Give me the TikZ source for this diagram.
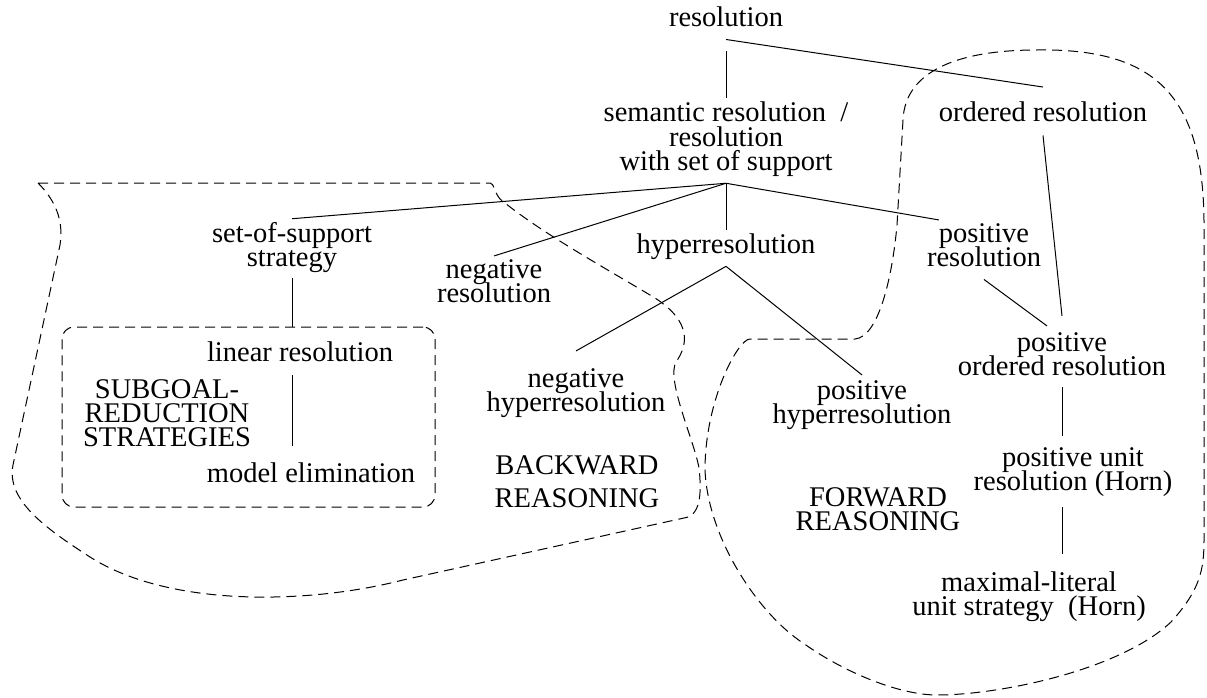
\documentclass[tikz,border=0pt]{standalone}
\usepackage{fontspec}
\setmainfont{Liberation Serif}
\begin{document}
\begin{tikzpicture}[x=1pt,y=-1pt,
    lbl/.style={inner sep=0pt,anchor=base,align=center,
      font={\fontsize{28.5}{24}\selectfont\lineskiplimit=-50pt}},
    link/.style={line width=1pt},
    region/.style={line width=1pt,dash pattern=on 10pt off 6pt},
    sgbox/.style={region,draw,rounded corners=12pt,minimum width=373pt,minimum height=180pt}]
    \useasboundingbox (0,0) rectangle (1207,698);
    \node[lbl] (res) at (726,27) {resolution};
    \node[lbl] (sem) at (726,170) {semantic resolution\ \ /\\resolution\\with set of support};
    \node[lbl] (ord) at (1043,122) {ordered resolution};
    \node[lbl] (sos) at (292,266) {set-of-support\\strategy};
    \node[lbl] (neg) at (494,302) {negative\\resolution};
    \node[lbl] (hyp) at (726,253) {hyperresolution};
    \node[lbl] (pos) at (984,266) {positive\\resolution};
    \node[sgbox] (sg) at (248.5,417) {};
    \node[lbl] (lin) at (300,361) {linear resolution};
    \node[lbl] (sub) at (167,446) {SUBGOAL-\\REDUCTION\\STRATEGIES};
    \node[lbl] (mod) at (311,482) {model elimination};
    \node[lbl] (neghyp) at (576,411) {negative\\hyperresolution};
    \node[lbl] (poshyp) at (862,423) {positive\\hyperresolution};
    \node[lbl] (back) at (577,507) {BACKWARD\\[9pt]REASONING};
    \node[lbl] (fwd) at (878,530) {FORWARD\\REASONING};
    \node[lbl] (posord) at (1062,375) {positive\\ordered resolution};
    \node[lbl] (posunit) at (1073,490) {positive unit\\resolution (Horn)};
    \node[lbl] (maxlit) at (1029,615) {maximal-literal\\unit strategy\ \ (Horn)};
    \draw[link] ([yshift=-24pt]res.south) -- ([yshift=4pt]sem.north);
    \draw[link] ([yshift=-12pt]res.south) -- ([yshift=15pt]ord.north);
    \draw[link] ([yshift=-7pt]sem.south) -- ([yshift=3pt]sos.north);
    \draw[link] ([yshift=-7pt]sem.south) -- ([yshift=3pt]neg.north);
    \draw[link] ([yshift=-7pt]sem.south) -- ([yshift=3pt]hyp.north);
    \draw[link] ([yshift=-7pt]sem.south) -- ([xshift=12pt,yshift=3pt]pos.north west);
    \draw[link] ([yshift=-7pt]hyp.south) -- ([yshift=17pt]neghyp.north);
    \draw[link] ([yshift=-7pt]hyp.south) -- ([yshift=5pt]poshyp.north);
    \draw[link] ([yshift=-6pt]sos.south) -- (sos.south |- sg.north);
    \draw[link] ([yshift=-14pt]lin.south -| sos.south) -- ([yshift=16pt]mod.north -| sos.south);
    \draw[link] ([yshift=-13pt]ord.south) -- ([yshift=16pt]posord.north);
    \draw[link] ([yshift=-13pt]pos.south) -- ([xshift=-15pt,yshift=6pt]posord.north);
    \draw[link] ([yshift=-12pt]posord.south) -- ([yshift=11pt]posunit.north -| posord.south);
    \draw[link] ([yshift=-11pt]posunit.south -| posord.south) -- ([yshift=17pt]maxlit.north -| posord.south);
    \draw[region] (38,183) -- (490,183) .. controls (494,183) and (494,192) .. (500,199)
        .. controls (540,232) and (600,265) .. (655,298)
        .. controls (692,322) and (688,345) .. (676,362)
        .. controls (666,380) and (694,440) .. (699,468)
        .. controls (702,495) and (700,516) .. (684,518)
        -- (403,580) .. controls (310,604) and (170,608) .. (90,557)
        .. controls (45,528) and (6,500) .. (13,465)
        -- (60,245) .. controls (64,220) and (55,200) .. cycle;
    \draw[region] (705,470) .. controls (708,540) and (760,615) .. (803,643)
        .. controls (845,673) and (900,695) .. (937,695)
        .. controls (1000,695) and (1120,670) .. (1171,622)
        .. controls (1200,590) and (1204,570) .. (1204,540)
        -- (1204,230) .. controls (1205,100) and (1160,48) .. (1037,50)
        .. controls (960,50) and (905,70) .. (903,120)
        -- (897,225) .. controls (892,280) and (878,337) .. (855,339)
        -- (750,339) .. controls (738,339) and (705,400) .. cycle;
\end{tikzpicture}
\end{document}
